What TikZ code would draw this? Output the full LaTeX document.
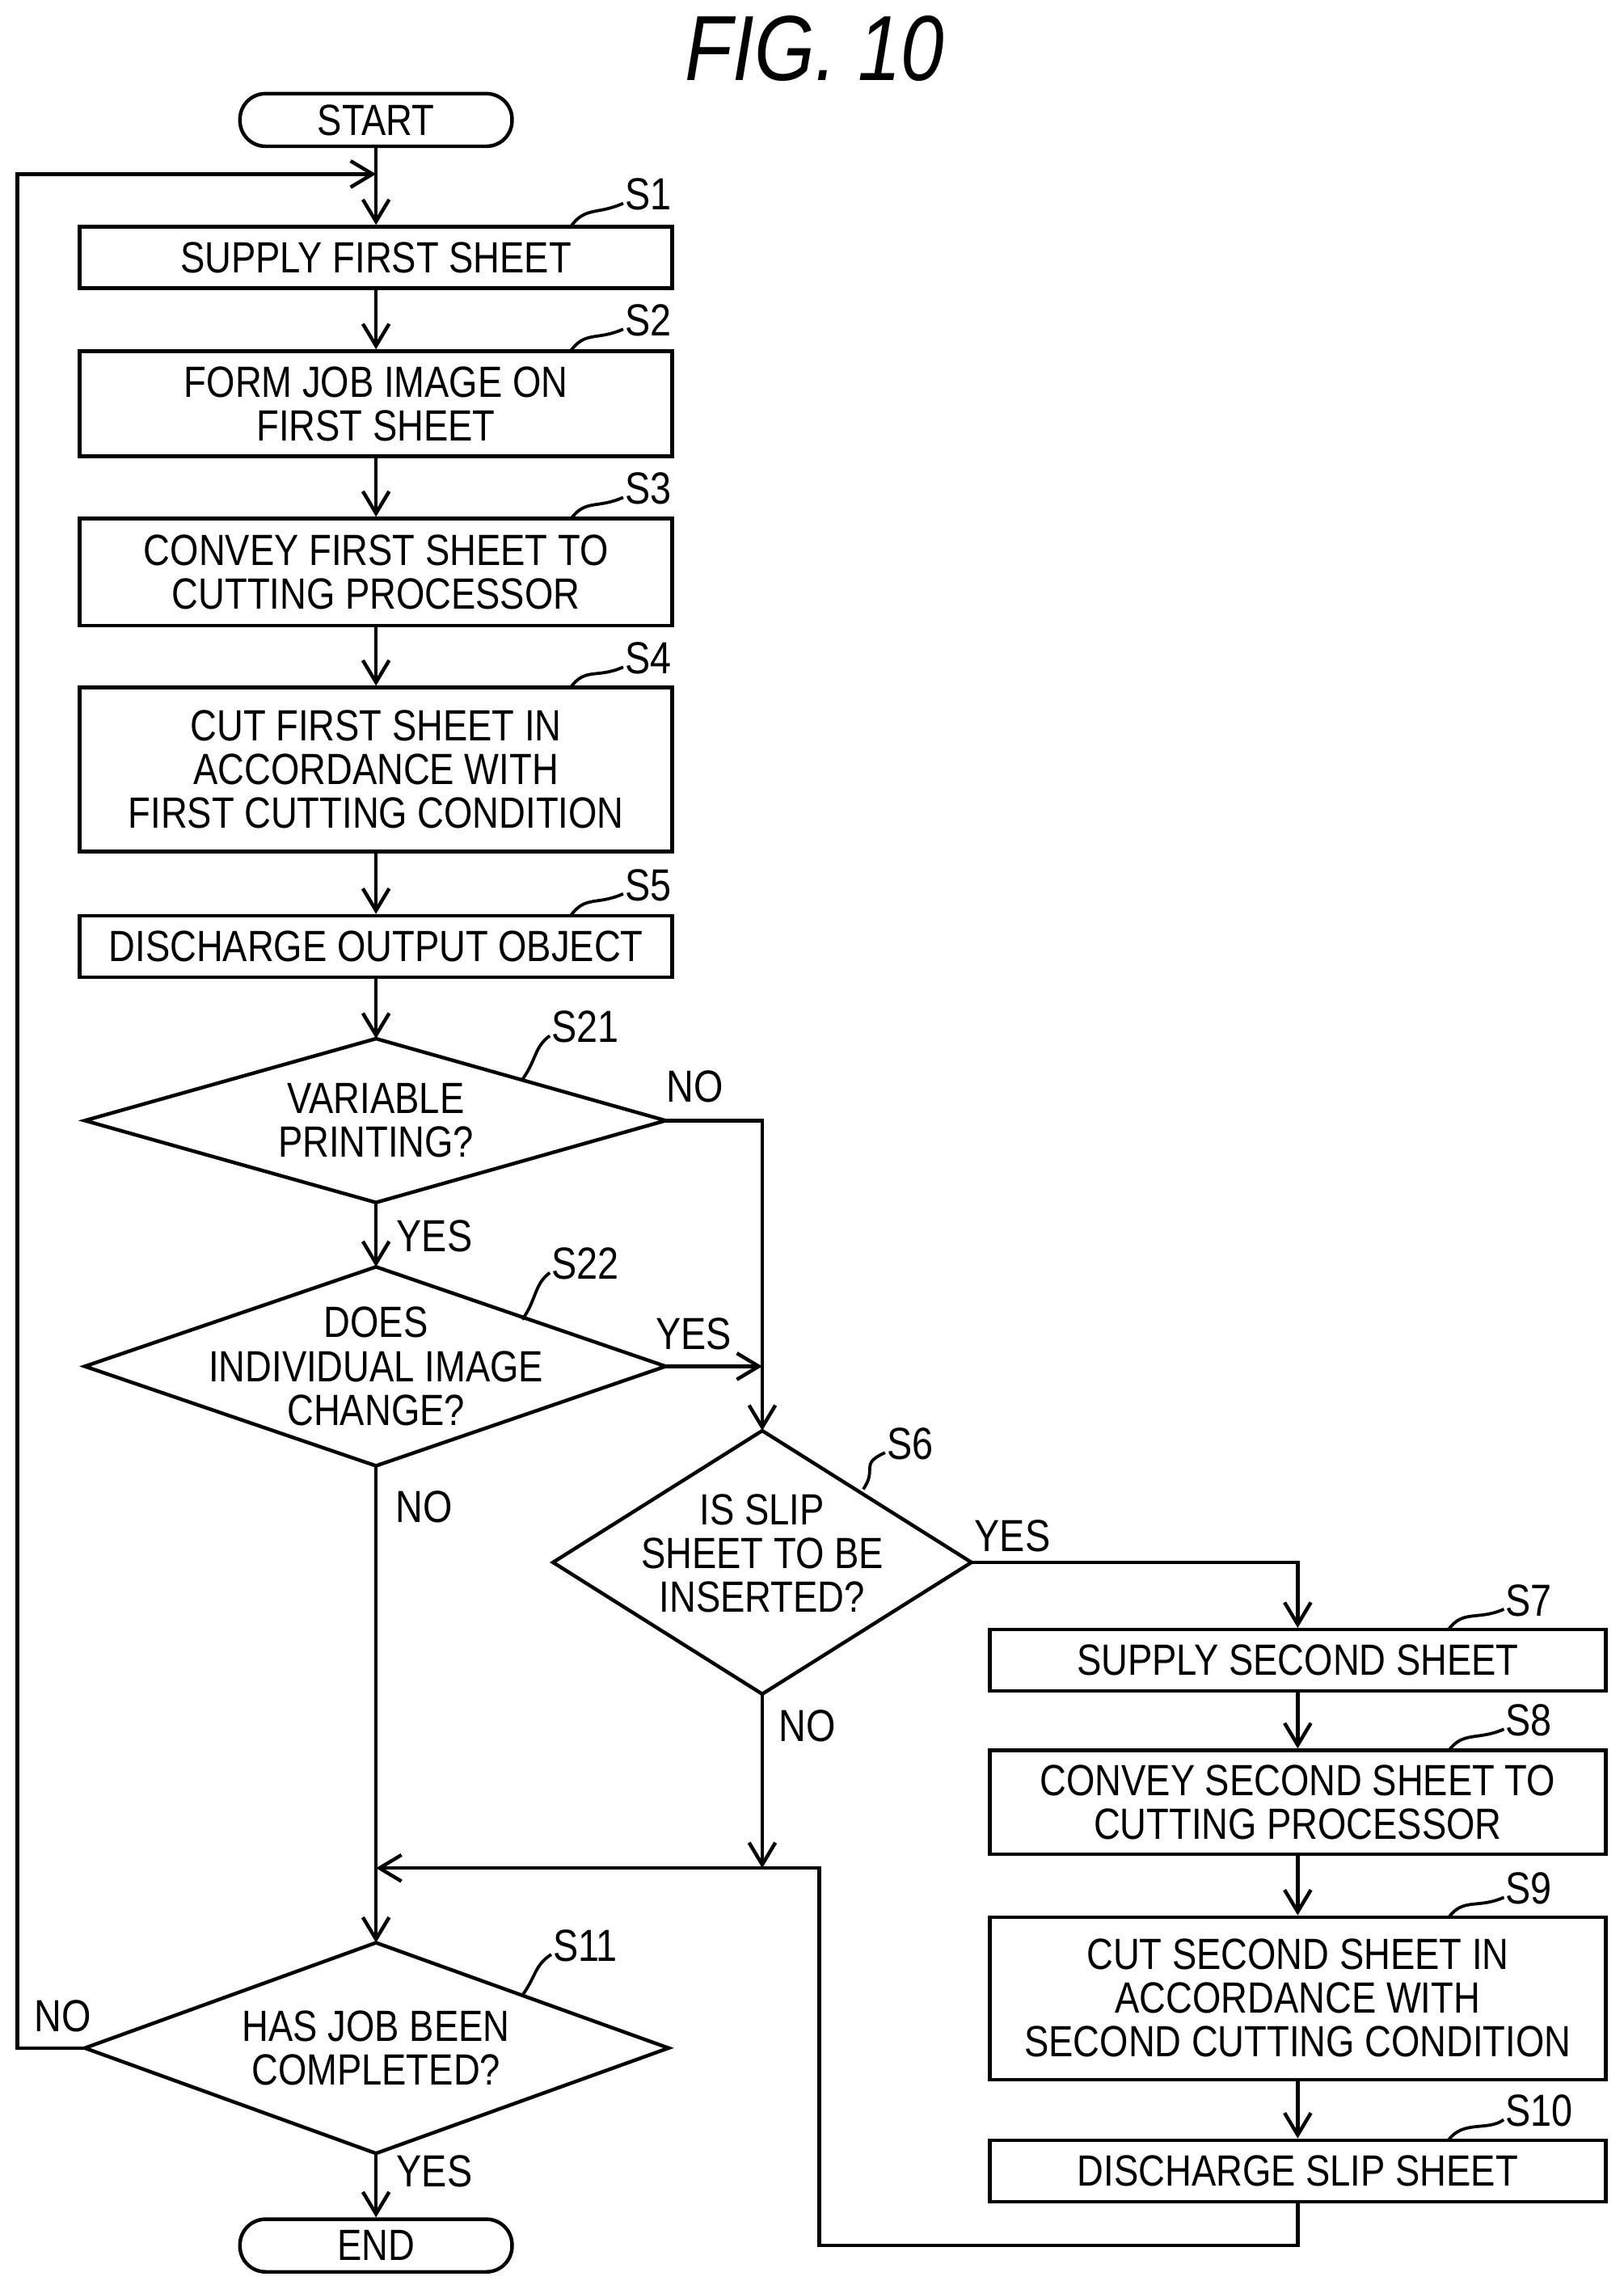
\documentclass[tikz,border=0pt]{standalone}
\usepackage{fontspec}
\setmainfont{Liberation Sans}[FakeStretch=0.84]
\usetikzlibrary{arrows.meta,shapes.geometric}
\begin{document}
\begin{tikzpicture}[x=0.02cm,y=-0.02cm,line width=1.4pt,
  every node/.style={font=\fontsize{17}{17}\selectfont,align=center,inner sep=0pt},
  box/.style={draw,rectangle},
  term/.style={draw,rectangle,rounded corners=0.35cm,minimum width=3.72cm,minimum height=0.72cm},
  arr/.style={-{Straight Barb[length=3mm,width=3.6mm,line width=1.4pt]}},
  lbl/.style={font=\fontsize{17.5}{18}\selectfont},
  lead/.style={line width=1.2pt}]
\useasboundingbox (0,0) rectangle (1110,1562);
\node[font=\fontsize{36}{36}\selectfont\itshape] (title) at (557,33) {FIG. 10};
% boxes
\node[term] (start) at (257,82) {START};
\node[box,minimum width=405*0.02cm,minimum height=42*0.02cm] (s1) at (257,176) {SUPPLY FIRST SHEET};
\node[box,minimum width=405*0.02cm,minimum height=72*0.02cm] (s2) at (257,276) {FORM JOB IMAGE ON\\FIRST SHEET};
\node[box,minimum width=405*0.02cm,minimum height=73*0.02cm] (s3) at (257,391) {CONVEY FIRST SHEET TO\\CUTTING PROCESSOR};
\node[box,minimum width=405*0.02cm,minimum height=112*0.02cm] (s4) at (257,526) {CUT FIRST SHEET IN\\ACCORDANCE WITH\\FIRST CUTTING CONDITION};
\node[box,minimum width=405*0.02cm,minimum height=42*0.02cm] (s5) at (257,647) {DISCHARGE OUTPUT OBJECT};
\draw (58,766) coordinate (s21w) -- (257,710) coordinate (s21n) -- (455,766) coordinate (s21e) -- (257,822) coordinate (s21s) -- cycle;
\node (t21) at (257,766) {VARIABLE\\PRINTING?};
\draw (58,934) coordinate (s22w) -- (257,866) coordinate (s22n) -- (455,934) coordinate (s22e) -- (257,1002) coordinate (s22s) -- cycle;
\node (t22) at (257,934) {DOES\\INDIVIDUAL IMAGE\\CHANGE?};
\draw (378,1068) coordinate (s6w) -- (521,978) coordinate (s6n) -- (664,1068) coordinate (s6e) -- (521,1158) coordinate (s6s) -- cycle;
\node (t6) at (521,1062) {IS SLIP\\SHEET TO BE\\INSERTED?};
\draw (58,1400) coordinate (s11w) -- (257,1328) coordinate (s11n) -- (457,1400) coordinate (s11e) -- (257,1472) coordinate (s11s) -- cycle;
\node (t11) at (257,1400) {HAS JOB BEEN\\COMPLETED?};
\node[box,minimum width=421*0.02cm,minimum height=42*0.02cm] (s7) at (887,1135) {SUPPLY SECOND SHEET};
\node[box,minimum width=421*0.02cm,minimum height=71*0.02cm] (s8) at (887,1232) {CONVEY SECOND SHEET TO\\CUTTING PROCESSOR};
\node[box,minimum width=421*0.02cm,minimum height=111*0.02cm] (s9) at (887,1366) {CUT SECOND SHEET IN\\ACCORDANCE WITH\\SECOND CUTTING CONDITION};
\node[box,minimum width=421*0.02cm,minimum height=42*0.02cm] (s10) at (887,1484) {DISCHARGE SLIP SHEET};
\node[term] (end) at (257,1535) {END};
% arrows
\draw[arr] (start) -- (s1);
\draw[arr] (s1) -- (s2);
\draw[arr] (s2) -- (s3);
\draw[arr] (s3) -- (s4);
\draw[arr] (s4) -- (s5);
\draw[arr] (s5) -- (s21n);
\draw[arr] (s21s) -- (s22n);
\draw[arr] (s22s) -- (s11n);
\draw[arr] (s11s) -- (end);
\draw[arr] (s21e) -- (521,766) -- (s6n);
\draw[arr] (s22e) -- (521,934);
\draw[arr] (s6e) -- (887,1068) -- (s7);
\draw[arr] (s7) -- (s8);
\draw[arr] (s8) -- (s9);
\draw[arr] (s9) -- (s10);
\draw[arr] (s6s) -- (521,1277);
\draw[arr] (s10) -- (887,1535) -- (560,1535) -- (560,1277) -- (257,1277);
\draw[arr] (s11w) -- (12,1400) -- (12,119) -- (257,119);
% yes/no
\node[lbl] (n1) at (475,743) {NO};
\node[lbl] (y1) at (297,845) {YES};
\node[lbl] (y2) at (474,912) {YES};
\node[lbl] (n2) at (290,1030) {NO};
\node[lbl] (y3) at (692,1050) {YES};
\node[lbl] (n3) at (552,1180) {NO};
\node[lbl] (n4) at (43,1378) {NO};
\node[lbl] (y4) at (297,1484) {YES};
% step labels
\foreach \n/\x/\y/\px/\py in {S1/443/133/390/155, S2/443/219/390/240, S3/443/334/390/355, S4/443/450/390/470, S5/443/605/390/626, S21/400/702/357/738, S22/400/864/357/902, S6/622/987/590/1018, S7/1045/1094/990/1114, S8/1045/1176/990/1197, S9/1045/1291/990/1311, S10/1052/1443/990/1463, S11/400/1330/357/1364}{
  \node[lbl] (\n) at (\x,\y) {\n};
  \draw[lead] (\px,\py) .. controls (\px+10,\py-14) and (\x-35,\y+14) .. (\n.west |- 0,\y+6);
}
\end{tikzpicture}
\end{document}
